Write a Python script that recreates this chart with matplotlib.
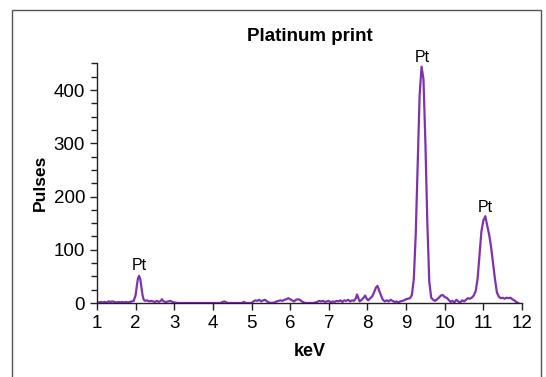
import matplotlib
matplotlib.use("Agg")
import matplotlib.pyplot as plt
from matplotlib.patches import Rectangle
from matplotlib.ticker import MultipleLocator

# ==========================================================
# DATA - EDX spectrum (keV, pulses)
# ==========================================================

kev = [
    1.00, 1.05, 1.10, 1.15, 1.20, 1.25, 1.30, 1.35, 1.40, 1.45,
    1.50, 1.55, 1.60, 1.65, 1.70, 1.75, 1.80, 1.85, 1.90, 1.95,
    2.00, 2.03, 2.06, 2.09, 2.12, 2.15, 2.18, 2.21, 2.25, 2.30,
    2.35, 2.40, 2.45, 2.50, 2.55, 2.60, 2.65, 2.68, 2.72, 2.78,
    2.85, 2.90, 2.95, 3.00, 3.10, 3.50, 4.00, 4.20, 4.25, 4.30,
    4.35, 4.40, 4.75, 4.80, 4.85, 5.00, 5.05, 5.10, 5.15, 5.20,
    5.25, 5.30, 5.35, 5.40, 5.45, 5.50, 5.60, 5.65, 5.70, 5.75,
    5.80, 5.85, 5.90, 5.95, 6.00, 6.05, 6.10, 6.15, 6.20, 6.25,
    6.30, 6.35, 6.40, 6.50, 6.60, 6.70, 6.75, 6.80, 6.85, 6.90,
    6.95, 7.00, 7.05, 7.10, 7.15, 7.20, 7.25, 7.30, 7.35, 7.40,
    7.45, 7.50, 7.55, 7.60, 7.65, 7.70, 7.73, 7.77, 7.80, 7.85,
    7.90, 7.94, 7.98, 8.02, 8.07, 8.12, 8.17, 8.22, 8.26, 8.30,
    8.35, 8.40, 8.45, 8.50, 8.55, 8.60, 8.65, 8.70, 8.75, 8.80,
    8.85, 8.90, 8.95, 9.00, 9.05, 9.10, 9.15, 9.20, 9.25, 9.30,
    9.35, 9.40, 9.45, 9.50, 9.55, 9.60, 9.65, 9.70, 9.75, 9.80,
    9.85, 9.90, 9.95, 10.00, 10.05, 10.10, 10.15, 10.20, 10.25, 10.30,
    10.35, 10.40, 10.45, 10.50, 10.55, 10.60, 10.65, 10.70, 10.75, 10.80,
    10.85, 10.90, 10.95, 11.00, 11.05, 11.10, 11.15, 11.20, 11.25, 11.30,
    11.35, 11.40, 11.45, 11.50, 11.55, 11.60, 11.65, 11.70, 11.75, 11.80,
    11.85, 11.90,
]

pulses = [
    2, 1, 2, 1, 2, 1, 3, 2, 3, 2,
    1, 2, 1, 2, 1, 2, 1, 2, 3, 4,
    15, 32, 46, 51, 45, 30, 14, 6, 4, 5,
    3, 4, 3, 2, 4, 2, 4, 7, 3, 2,
    3, 4, 2, 1, 0, 0, 0, 0, 2, 3,
    1, 0, 0, 2, 0, 0, 3, 5, 4, 6,
    3, 5, 6, 3, 1, 0, 1, 3, 4, 5,
    4, 6, 7, 9, 7, 5, 3, 6, 7, 6,
    3, 1, 0, 0, 0, 2, 4, 3, 4, 2,
    3, 4, 1, 3, 2, 4, 3, 5, 2, 5,
    4, 6, 3, 5, 4, 9, 16, 8, 3, 6,
    10, 14, 8, 5, 9, 12, 20, 29, 32, 24,
    14, 6, 3, 5, 3, 6, 4, 2, 3, 1,
    3, 4, 5, 7, 8, 9, 15, 45, 130, 260,
    390, 444, 420, 300, 150, 40, 10, 6, 4, 7,
    10, 14, 15, 11, 10, 6, 2, 4, 1, 6,
    3, 1, 5, 3, 6, 9, 8, 10, 14, 22,
    45, 90, 135, 155, 163, 145, 128, 105, 75, 45,
    20, 12, 9, 10, 8, 10, 9, 10, 7, 5,
    2, 0,
]

# rotulos dos picos
rotulos = ["Pt", "Pt", "Pt"]
rotulos_x = [2.09, 9.42, 11.05]
rotulos_y = [53, 444, 163]

COR = "#8031AE"

plt.rcParams["font.family"] = ["Liberation Sans", "DejaVu Sans"]

# ==========================================================
# GRAFICO
# ==========================================================

fig = plt.figure(figsize=(5.46, 3.77), dpi=100)

# moldura cinza em volta do grafico
fig.patches.append(Rectangle(
    (12 / 546, -0.05), 529 / 546, 1.05 - 10 / 377,
    transform=fig.transFigure, fill=False,
    edgecolor="#555555", linewidth=1.0
))

ax = fig.add_axes([97 / 546, 1 - 303 / 377, 425 / 546, (303 - 63.4) / 377])

ax.plot(kev, pulses, color=COR, linewidth=1.6)

for txt, x, y in zip(rotulos, rotulos_x, rotulos_y):
    ax.annotate(txt, (x, y), xytext=(0, 1), textcoords="offset points",
                ha="center", va="bottom", fontsize=11.5, annotation_clip=False)

ax.set_xlim(1, 12)
ax.set_ylim(0, 450)
ax.xaxis.set_major_locator(MultipleLocator(1))
ax.yaxis.set_major_locator(MultipleLocator(100))
ax.yaxis.set_minor_locator(MultipleLocator(25))

ax.spines["top"].set_visible(False)
ax.spines["right"].set_visible(False)
for lado in ["left", "bottom"]:
    ax.spines[lado].set_linewidth(1.0)
    ax.spines[lado].set_color("#222222")

ax.tick_params(axis="both", which="major", direction="out", length=5,
               width=1.0, labelsize=13.5, color="#222222")
ax.tick_params(axis="y", which="minor", direction="out", length=4,
               width=1.0, color="#222222")

ax.set_title("Platinum print", fontsize=13.5, fontweight="bold", pad=16)
ax.set_xlabel("keV", fontsize=13, fontweight="bold", labelpad=8)
ax.set_ylabel("Pulses", fontsize=12.5, fontweight="bold", labelpad=4)

fig.savefig("out.png", dpi=100)
